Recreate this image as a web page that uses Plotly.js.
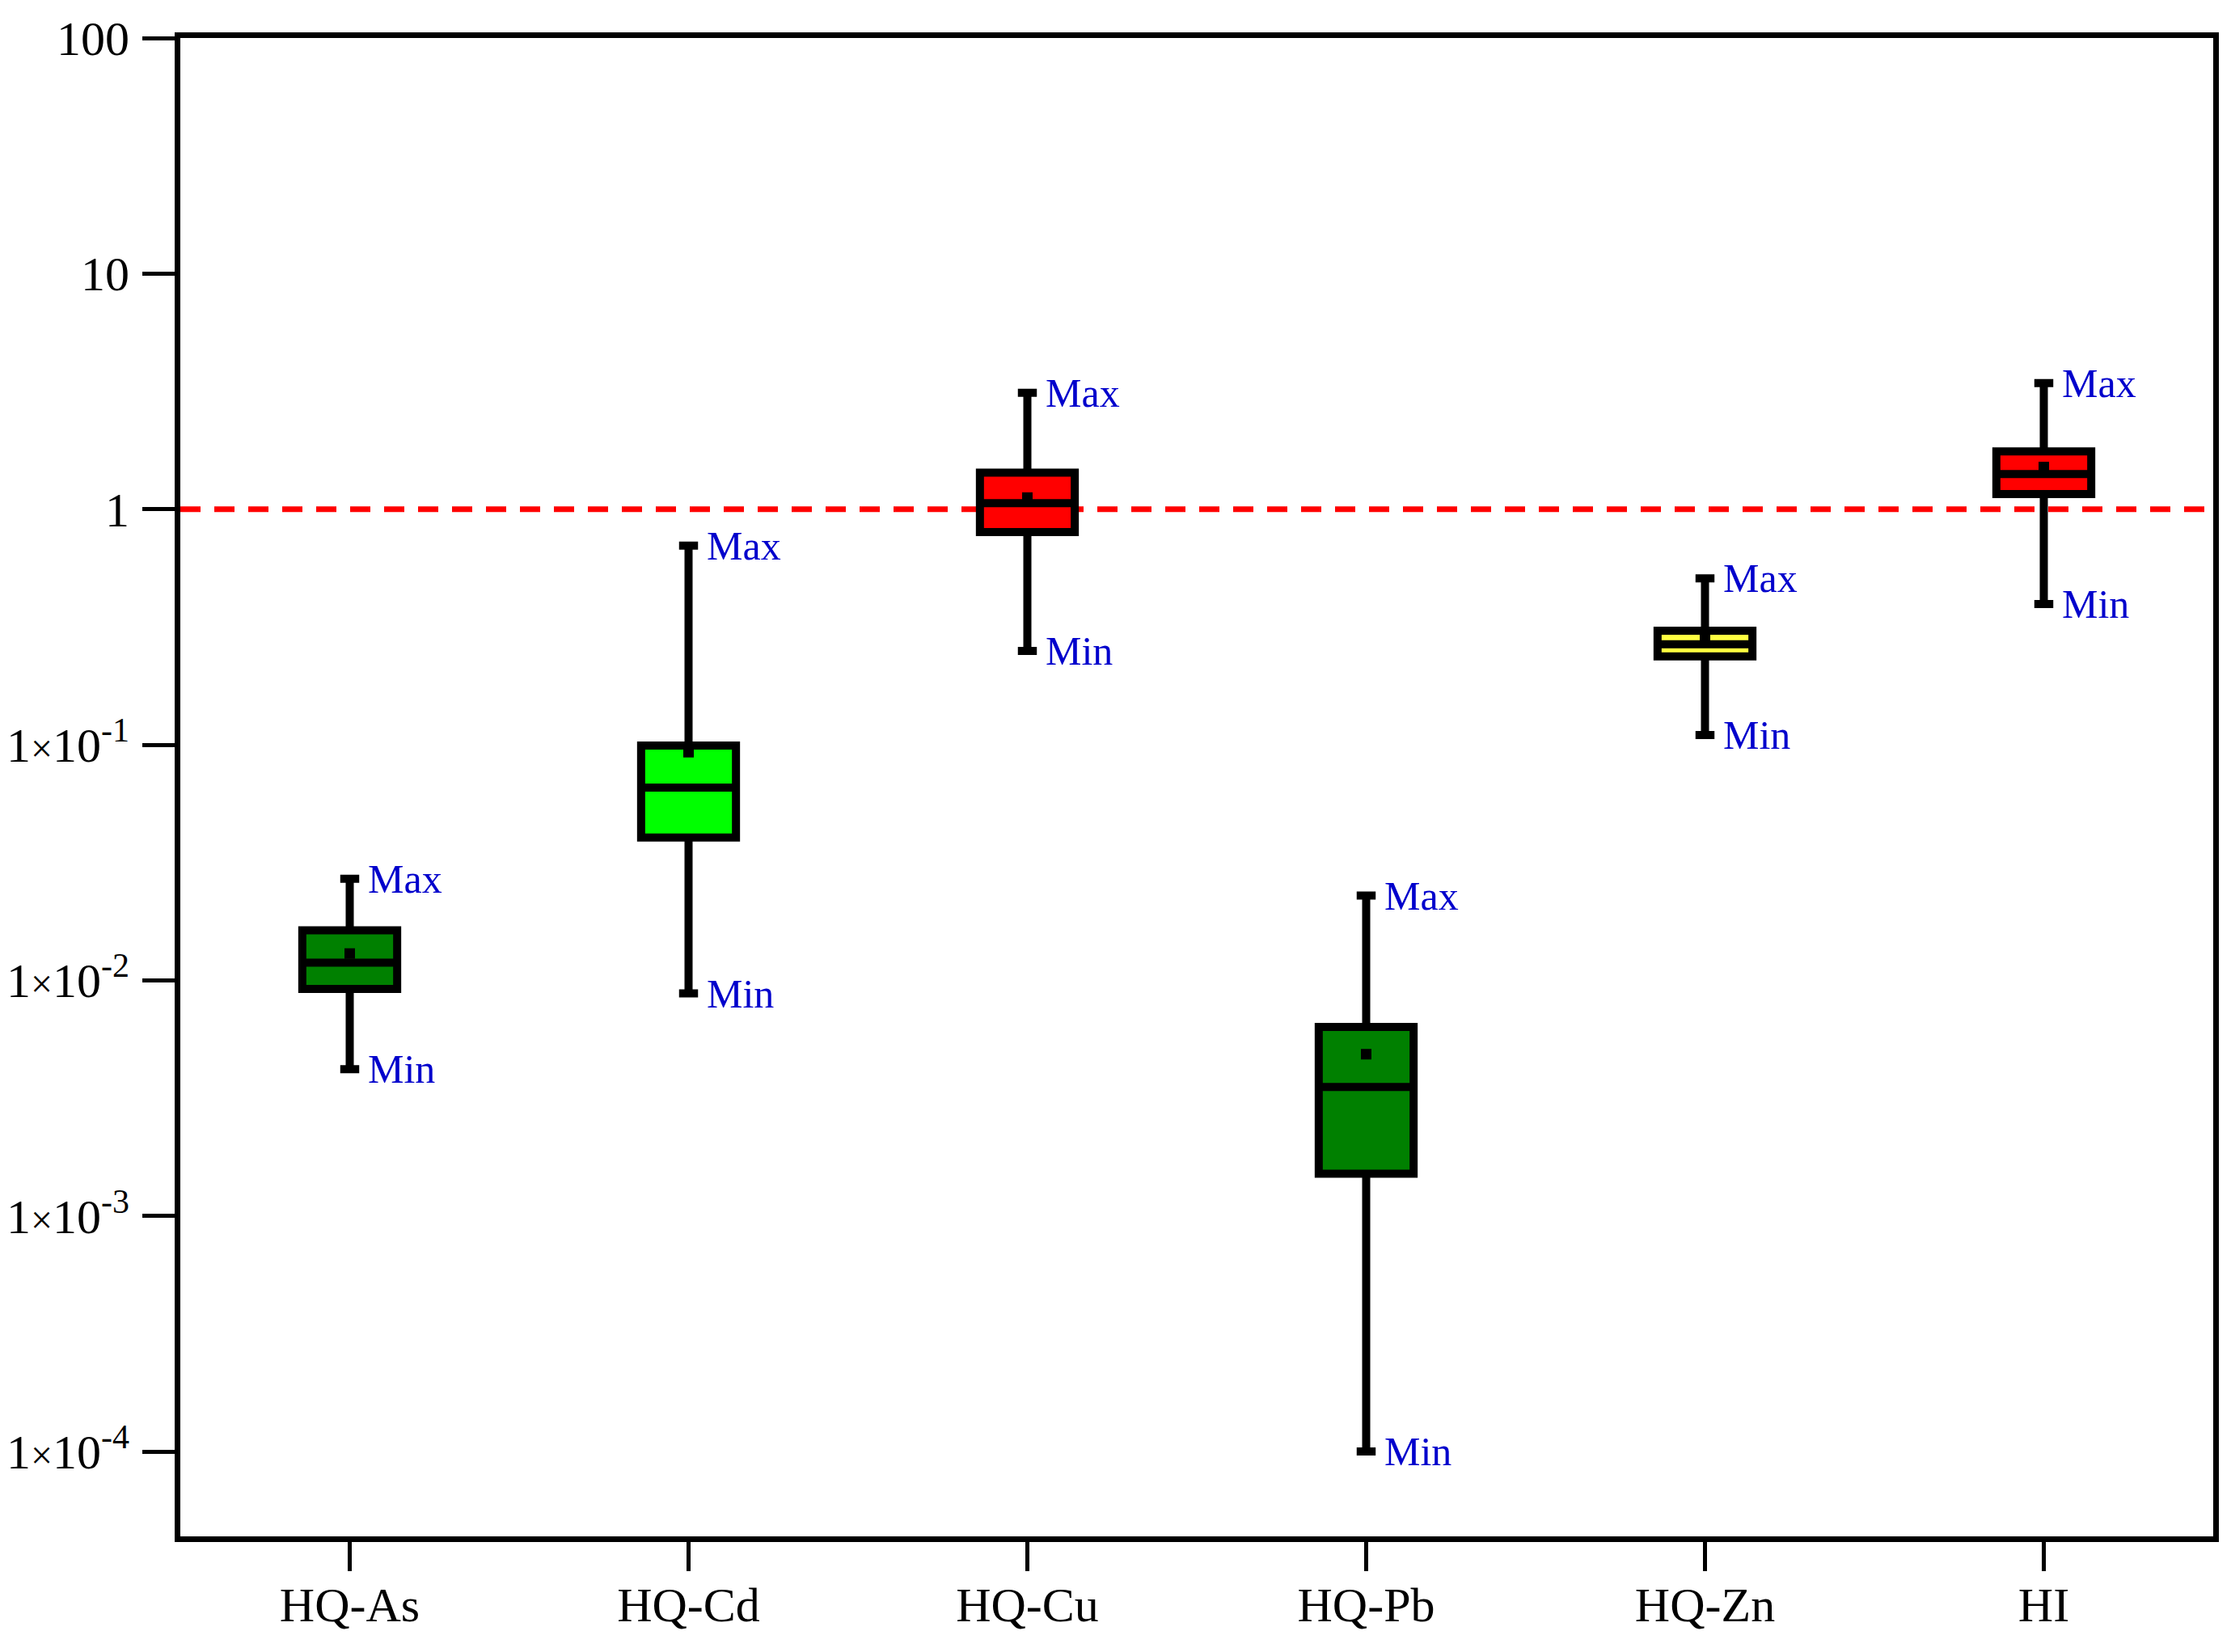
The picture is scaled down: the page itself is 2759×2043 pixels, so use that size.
<!DOCTYPE html>
<html>
<head>
<meta charset="utf-8">
<script src="https://cdn.plot.ly/plotly-3.0.1.min.js"></script>
<style>html,body{margin:0;padding:0;background:#fff;}</style>
</head>
<body>
<div id="chart" style="width:2759px;height:2043px;"></div>
<script>
const categories = ["HQ-As", "HQ-Cd", "HQ-Cu", "HQ-Pb", "HQ-Zn", "HI"];
const minVals    = [0.0042, 0.0088, 0.25, 0.0001, 0.110, 0.396];
const q1Vals     = [0.0092, 0.0404, 0.80, 0.00151, 0.237, 1.16];
const medianVals = [0.0119, 0.0658, 1.06, 0.00353, 0.267, 1.41];
const q3Vals     = [0.0163, 0.0993, 1.43, 0.00634, 0.305, 1.76];
const maxVals    = [0.027, 0.70, 3.12, 0.0229, 0.509, 3.43];
const meanVals   = [0.0130, 0.093, 1.12, 0.00486, 0.286, 1.51];
const boxColors  = ["#008000", "#00ff00", "#ff0000", "#008000", "#ffff40", "#ff0000"];
const yTickVals  = [100, 10, 1, 0.1, 0.01, 0.001, 0.0001];
const yTickText  = ["100", "10", "1",
  "1<span style='font-size:48px'>×</span>10<sup>-1</sup>",
  "1<span style='font-size:48px'>×</span>10<sup>-2</sup>",
  "1<span style='font-size:48px'>×</span>10<sup>-3</sup>",
  "1<span style='font-size:48px'>×</span>10<sup>-4</sup>"];
const thresholdValue = 1;

const FONT = "Liberation Serif, Times New Roman, serif";

const traces = categories.map((c, i) => ({
  type: "box",
  x: [c],
  q1: [q1Vals[i]],
  median: [medianVals[i]],
  q3: [q3Vals[i]],
  lowerfence: [minVals[i]],
  upperfence: [maxVals[i]],
  width: 0.28,
  whiskerwidth: 0.2,
  fillcolor: boxColors[i],
  line: {color: "#000000", width: 10},
  boxpoints: false,
  showlegend: false,
  hoverinfo: "skip"
}));

traces.push({
  type: "scatter",
  mode: "markers",
  x: categories,
  y: meanVals,
  marker: {symbol: "square", size: 13, color: "#000000"},
  showlegend: false,
  hoverinfo: "skip"
});

const annotations = [];
categories.forEach((c, i) => {
  annotations.push({
    x: c, y: Math.log10(maxVals[i]), xref: "x", yref: "y",
    text: "Max", showarrow: false, xanchor: "left", yanchor: "middle",
    xshift: 20, font: {family: FONT, size: 50, color: "#0000cc"}
  });
  annotations.push({
    x: c, y: Math.log10(minVals[i]), xref: "x", yref: "y",
    text: "Min", showarrow: false, xanchor: "left", yanchor: "middle",
    xshift: 20, font: {family: FONT, size: 50, color: "#0000cc"}
  });
});

const layout = {
  width: 2759, height: 2043,
  margin: {l: 223, r: 22, t: 47, b: 143, pad: 0},
  paper_bgcolor: "#ffffff", plot_bgcolor: "#ffffff",
  boxmode: "overlay",
  font: {family: FONT, color: "#000000"},
  xaxis: {
    type: "category",
    categoryorder: "array", categoryarray: categories,
    range: [-0.5, 5.5],
    showline: true, linecolor: "#000000", linewidth: 7, mirror: true,
    ticks: "outside", ticklen: 36, tickwidth: 5, tickcolor: "#000000",
    tickfont: {family: FONT, size: 60, color: "#000000"},
    ticklabelstandoff: -10,
    showgrid: false, zeroline: false
  },
  yaxis: {
    type: "log",
    range: [-4.36, 2],
    tickmode: "array", tickvals: yTickVals, ticktext: yTickText,
    showline: true, linecolor: "#000000", linewidth: 7, mirror: true,
    ticks: "outside", ticklen: 40, tickwidth: 5, tickcolor: "#000000",
    tickfont: {family: FONT, size: 60, color: "#000000"},
    ticklabelstandoff: 4,
    showgrid: false, zeroline: false
  },
  shapes: [{
    type: "line", xref: "paper", x0: 0, x1: 1,
    yref: "y", y0: thresholdValue, y1: thresholdValue,
    line: {color: "#ff0000", width: 7, dash: "25px,17px"},
    layer: "below"
  }],
  annotations: annotations
};

Plotly.newPlot("chart", traces, layout, {staticPlot: true, displayModeBar: false});
</script>
</body>
</html>
